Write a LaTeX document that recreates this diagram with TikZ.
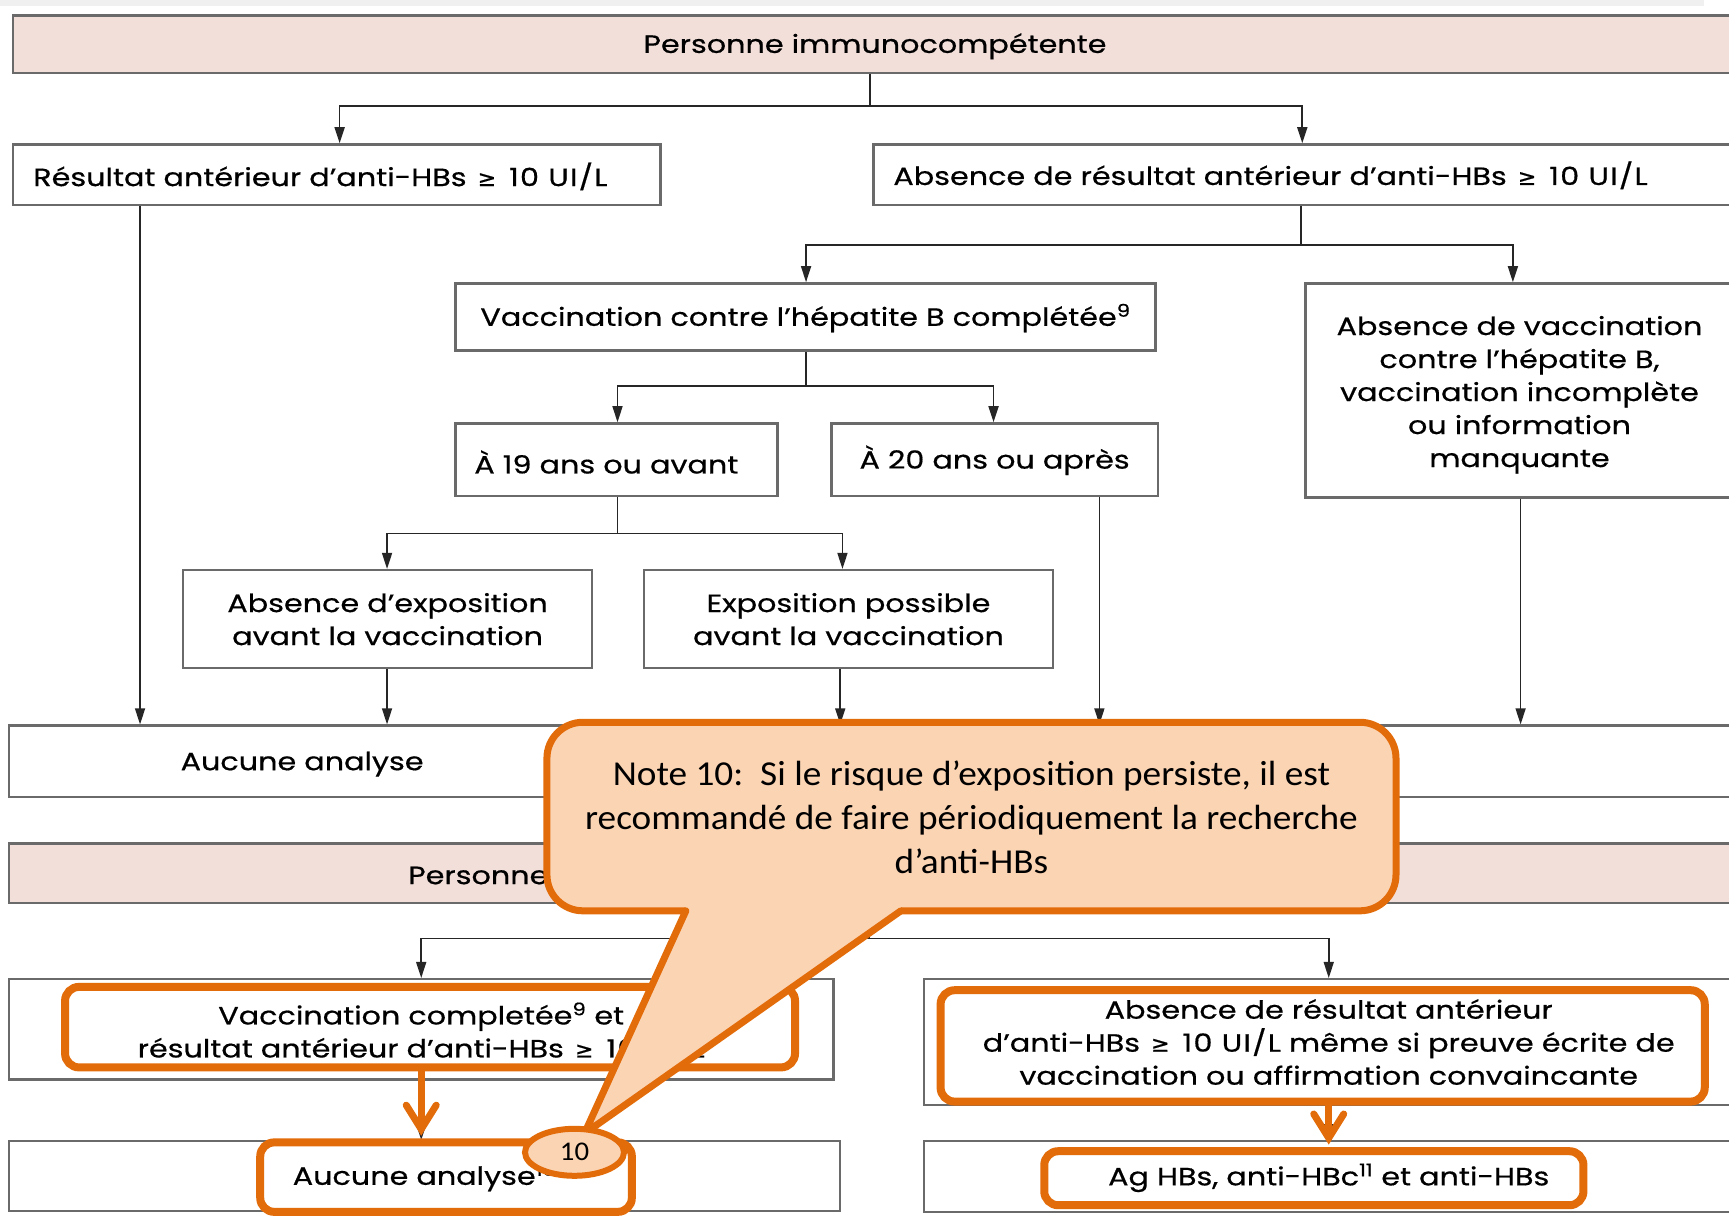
\documentclass[tikz,border=0pt]{standalone}
\usepackage{fontspec}
\setmainfont{Poppins}[FakeStretch=1.21,FakeBold=0.6]
\newfontfamily\calfont{Carlito}[FakeStretch=1.065]
\newfontfamily\dvfont{DejaVu Sans}[FakeBold=0.6]
\usetikzlibrary{arrows.meta,shapes.geometric}
\definecolor{pinkbar}{HTML}{F2DFDA}
\definecolor{boxline}{HTML}{6A6A6A}
\definecolor{org}{HTML}{E36C0A}
\definecolor{peach}{HTML}{FBD4B4}
\newcommand\flowfont{\fontsize{25}{33}\selectfont}
\newcommand\gesym{{\dvfont\fontsize{22}{22}\selectfont ≥}}
\newcommand\geten{\hspace{3pt}\gesym\hspace{13pt}{\addfontfeature{LetterSpace=5}10 UI/L}}
\begin{document}
\begin{tikzpicture}[x=1.1027pt,y=-1.1027pt,
  bx/.style n args={4}{minimum width={(#3-#1)*1.1027pt}, minimum height={(#4-#2)*1.1027pt},
      at={({(#1+#3)/2},{(#2+#4)/2})}},
  fbox/.style={draw=boxline, line width=2.4pt, fill=white, inner sep=0pt, align=center, font=\flowfont, rectangle},
  one/.style={text height=20pt, text depth=2.4pt},
  pbox/.style={fbox, fill=pinkbar},
  lbl/.style={inner sep=0pt, font=\flowfont, align=left},
  link/.style={draw=black!85, line width=1.6pt},
  conn/.style={link, -{Triangle[length=16pt,width=10pt]}},
  hl/.style={draw=org, line width=8pt, rounded corners=14pt, inner sep=0pt, rectangle},
  oarrow/.style={draw=org, line width=7pt, line cap=round, -{Straight Barb[length=24pt,width=30pt,line cap=round]}}
]
\useasboundingbox (0,0) rectangle (1568,1115);
\fill[gray!12] (0,0) rectangle (1545,5);

% ---------- upper flowchart ----------
\node[pbox, one, bx={12}{14}{1575}{66}] (top) {Personne immunocompétente};
\node[fbox, bx={12}{131}{599}{186}] (r1) {};
\node[lbl, anchor=west] (r1t) at (30,160) {Résultat antérieur d’anti-HBs \geten};
\node[fbox, bx={792}{131}{1575}{186}] (r2) {};
\node[lbl, anchor=west] (r2t) at (810,159) {Absence de résultat antérieur d’anti-HBs \geten};
\node[fbox, one, bx={413}{257}{1048}{318}] (vacc) {Vaccination contre l’hépatite B complétée\textsuperscript{9}};
\node[fbox, bx={1184}{257}{1572}{451}] (novacc) {};
\node[lbl, align=center] (novacct) at (1378,358) {Absence de vaccination\\contre l’hépatite B,\\vaccination incomplète\\ou information\\manquante};
\node[fbox, bx={413}{384}{705}{450}] (a19) {};
\node[lbl, anchor=west] (a19t) at (430,419) {À 19 ans ou avant};
\node[fbox, one, bx={754}{384}{1050}{450}] (a20) {À 20 ans ou après};
\node[fbox, bx={166}{517}{537}{606}] (noexp) {Absence d’exposition\\avant la vaccination};
\node[fbox, bx={584}{517}{955}{606}] (exp) {Exposition possible\\avant la vaccination};
\node[fbox, one, bx={8}{658}{540}{723}] (auc1) {Aucune analyse};
\node[fbox, bx={560}{658}{1575}{723}] (res2) {};

\draw[link] (789,0 |- top.south) -- (789,96);
\draw[conn] (789,96) -| (308,0 |- r1.north);
\draw[conn] (789,96) -| (1181,0 |- r2.north);
\draw[link] (1180,0 |- r2.south) -- (1180,222);
\draw[conn] (1180,222) -| (731,0 |- vacc.north);
\draw[conn] (1180,222) -| (1372,0 |- novacc.north);
\draw[link] (731,0 |- vacc.south) -- (731,350);
\draw[conn] (731,350) -| (560,0 |- a19.north);
\draw[conn] (731,350) -| (901,0 |- a20.north);
\draw[link] (560,0 |- a19.south) -- (560,484);
\draw[conn] (560,484) -| (351,0 |- noexp.north);
\draw[conn] (560,484) -| (764,0 |- exp.north);
\draw[conn] (127,0 |- r1.south) -- (127,0 |- auc1.north);
\draw[conn] (351,0 |- noexp.south) -- (351,0 |- auc1.north);
\draw[conn] (762,0 |- exp.south) -- (762,0 |- res2.north);
\draw[conn] (997,0 |- a20.south) -- (997,0 |- res2.north);
\draw[conn] (1379,0 |- novacc.south) -- (1379,0 |- res2.north);

% ---------- lower flowchart ----------
\node[pbox, bx={8}{765}{1575}{819}] (pers2) {};
\node[lbl, anchor=west] (pers2t) at (370,794) {Personne};
\node[fbox, bx={8}{888}{756}{979}] (ll) {};
\node[lbl, align=center] (llt) at (382,936) {Vaccination completée\textsuperscript{9} et\\résultat antérieur d’anti-HBs \geten};
\node[fbox, bx={838}{888}{1572}{1002}] (lr) {Absence de résultat antérieur\\d’anti-HBs \geten{} même si preuve écrite de\\vaccination ou affirmation convaincante};
\node[fbox, one, bx={8}{1035}{762}{1098}] (bl) {Aucune analyse\textsuperscript{10}};
\node[fbox, one, bx={838}{1035}{1572}{1099}] (br) {Ag HBs, anti-HBc\textsuperscript{11} et anti-HBs};

\draw[link] (788,0 |- pers2.south) -- (788,851);
\draw[conn] (788,851) -| (382,0 |- ll.north);
\draw[conn] (788,851) -| (1205,0 |- lr.north);
\draw[conn] (382,0 |- ll.south) -- (382,0 |- bl.north);
\draw[conn] (1205,0 |- lr.south) -- (1205,0 |- br.north);

% ---------- orange highlights ----------
\node[hl, bx={59}{895}{721}{968}] (o1) {};
\node[hl, bx={853}{898}{1546}{999}] (o2) {};
\node[hl, bx={236}{1036}{573}{1099}] (o3) {};
\node[hl, bx={947}{1044}{1436}{1093}] (o4) {};
\draw[oarrow] (382,0 |- o1.south) -- (382,1030);
\draw[oarrow] (1205,0 |- o2.south) -- (1205,1038);

% ---------- callout ----------
\path[draw=org, fill=peach, line width=7pt, rounded corners=36pt] (496,655) rectangle (1266,826);
\fill[peach] (622,818) -- (622,826) -- (530,1028) -- (817,826) -- (817,818) -- cycle;
\draw[org, line width=7pt, line cap=round, line join=round] (622,826) -- (530,1028) -- (817,826);
\node[font=\calfont\fontsize{35}{44}\selectfont, align=center] (note) at (881,741)
  {Note 10:\ \ Si le risque d’exposition persiste, il est\\recommandé de faire périodiquement la recherche\\d’anti-HBs};

\node[ellipse, draw=org, fill=peach, line width=6pt, minimum width=99pt, minimum height=47pt, inner sep=0pt,
  font=\calfont\fontsize{27}{27}\selectfont] (n10) at (521,1045) {10};
\end{tikzpicture}
\end{document}
